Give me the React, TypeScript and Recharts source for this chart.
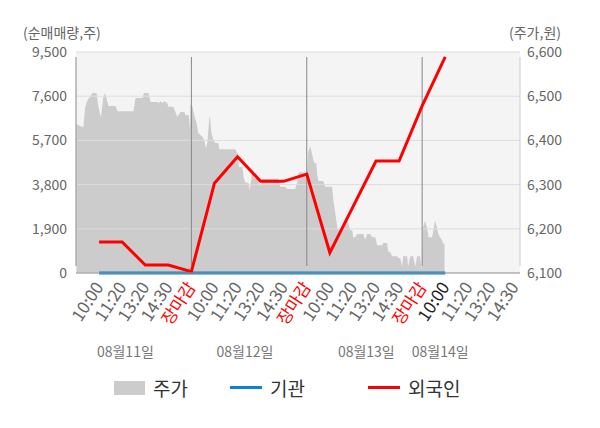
import React from "react"
import {
  ComposedChart,
  Area,
  Line,
  XAxis,
  YAxis,
  CartesianGrid,
  ReferenceLine,
  Legend,
} from "recharts"

const FONT = '"Noto Sans CJK KR", "Noto Sans", sans-serif'

// x is measured in tick slots: slot 1 = 08/11 10:00, slot 5 = 08/11 장마감, ...
const tickSlots = [1, 2, 3, 4, 5, 6, 7, 8, 9, 10, 11, 12, 13, 14, 15, 16, 17, 18, 19]
const tickLabels = [
  "10:00", "11:20", "13:20", "14:30", "장마감",
  "10:00", "11:20", "13:20", "14:30", "장마감",
  "10:00", "11:20", "13:20", "14:30", "장마감",
  "10:00", "11:20", "13:20", "14:30",
]
const dateSlots = [2.14, 7.32, 12.58, 15.78]
const dateLabels = ["08월11일", "08월12일", "08월13일", "08월14일"]
const dayBreaks = [5, 10, 15]

const leftTicks = [0, 1900, 3800, 5700, 7600, 9500]
const rightTicks = [6100, 6200, 6300, 6400, 6500, 6600]

// 순매매량 (주)
const flowSlots = [1, 2, 3, 4, 5, 6, 7, 8, 9, 10, 11, 12, 13, 14, 15, 16]
const institution = [0, 0, 0, 0, 0, 0, 0, 0, 0, 0, 0, 0, 0, 0, 0, 0]
const foreign = [1330, 1330, 344, 344, 60, 3860, 5000, 3940, 3940, 4250, 870, 2840, 4810, 4810, 7180, 9290]

// 주가 (원), intraday
const priceSlots = [
  0.02, 0.19, 0.32, 0.39, 0.45, 0.54, 0.63, 0.71, 0.89, 0.97, 1.08, 1.19, 1.26, 1.32, 1.41, 1.71,
  1.8, 2.49, 2.58, 2.88, 2.94, 3.14, 3.23, 3.53, 3.57, 3.66, 3.74, 3.83, 3.96, 4.0, 4.22, 4.39,
  4.52, 4.7, 4.74, 4.89, 4.94,
  4.96, 5.04, 5.13, 5.22, 5.3, 5.48, 5.56, 5.63, 5.69, 5.76, 5.8, 5.87, 5.95, 6.04, 6.17, 6.21,
  6.9, 6.99, 7.06, 7.21, 7.27, 7.34, 7.47, 7.53, 7.64, 7.73, 7.9, 7.99, 8.07, 8.77, 8.85, 9.07,
  9.16, 9.5, 9.59, 9.65, 9.85, 9.94,
  10.02, 10.06, 10.15, 10.24, 10.32, 10.41, 10.45, 10.5, 10.71, 10.8, 11.1, 11.15, 11.23, 11.32,
  11.36, 11.58, 11.66, 11.75, 11.82, 11.88, 11.97, 12.01, 12.1, 12.19, 12.45, 12.53, 12.62, 12.75,
  12.84, 12.97, 13.05, 13.27, 13.31, 13.48, 13.53, 13.61, 13.7, 13.92, 13.96, 14.05, 14.13, 14.18,
  14.35, 14.39, 14.48, 14.61, 14.7, 14.78, 14.91, 14.98,
  15.04, 15.13, 15.22, 15.28, 15.43, 15.5, 15.56, 15.63, 15.69, 15.78, 15.86, 15.91, 15.97,
]
const priceValues = [
  6437, 6432, 6430, 6473, 6485, 6494, 6500, 6507, 6507, 6476, 6451, 6500, 6507, 6495, 6478, 6478,
  6466, 6466, 6496, 6496, 6507, 6507, 6487, 6487, 6484, 6489, 6484, 6489, 6484, 6476, 6476, 6453,
  6464, 6464, 6457, 6457, 6424,
  6480, 6478, 6455, 6440, 6417, 6408, 6400, 6383, 6394, 6440, 6457, 6417, 6401, 6394, 6394, 6380,
  6380, 6371, 6340, 6340, 6315, 6304, 6304, 6288, 6328, 6315, 6315, 6295, 6313, 6313, 6295, 6295,
  6290, 6290, 6306, 6328, 6328, 6322,
  6326, 6374, 6387, 6367, 6349, 6349, 6326, 6308, 6308, 6295, 6295, 6265, 6238, 6204,
  6197, 6197, 6210, 6220, 6209, 6197, 6197, 6181, 6181, 6188, 6188, 6175, 6188, 6188,
  6181, 6181, 6163, 6163, 6168, 6168, 6148, 6148, 6138, 6138, 6134, 6134, 6114, 6138,
  6138, 6114, 6138, 6138, 6114, 6138, 6138, 6107,
  6204, 6218, 6200, 6181, 6181, 6200, 6218, 6205, 6190, 6180, 6175, 6165, 6168,
]

const X_MAX = 19.24
const TIME_AXIS = "axisA"
const DATE_AXIS = "axisB"

const priceData = priceSlots.map((x, i) => ({ x, price: priceValues[i] }))
const flowData = flowSlots.map((x, i) => ({ x, inst: institution[i], foreign: foreign[i] }))

function TimeTick(props: any) {
  const { x, y, payload } = props
  const idx = tickSlots.indexOf(payload.value)
  const label = tickLabels[idx]
  let fill = "#666"
  if (label === "장마감") fill = "#ff0000"
  else if (payload.value === 16) fill = "#222"
  const tx = x + 5
  const ty = y + 6
  return (
    <text
      x={tx}
      y={ty}
      transform={`rotate(-57 ${tx} ${ty})`}
      textAnchor="end"
      fontSize={17}
      fontFamily={FONT}
      fill={fill}
    >
      {label}
    </text>
  )
}

function DateTick(props: any) {
  const { x, y, payload } = props
  const idx = dateSlots.indexOf(payload.value)
  return (
    <text x={x} y={y + 16} textAnchor="middle" fontSize={14} fontFamily={FONT} fill="#777">
      {dateLabels[idx]}
    </text>
  )
}

// frame lines reach a little above and below the plot, as in the original
function frameLine(color: string) {
  return (p: any) => (
    <line x1={p.x1} x2={p.x2} y1={p.y1 - 7} y2={p.y2 + 5} stroke={color} strokeWidth={1} />
  )
}

function ChartLegend() {
  const item = (left: number, swatch: React.ReactNode, text: string) => (
    <div style={{ position: "absolute", left, top: 6, display: "flex", alignItems: "center" }}>
      {swatch}
      <span style={{ marginLeft: 8, fontSize: 19, color: "#333", fontFamily: FONT }}>{text}</span>
    </div>
  )
  return (
    <div style={{ position: "relative", width: 600, height: 60 }}>
      {item(114, <div style={{ width: 31, height: 14, background: "#cccccc" }} />, "주가")}
      {item(230, <div style={{ width: 32, height: 3, background: "#0a84cc" }} />, "기관")}
      {item(368, <div style={{ width: 32, height: 3, background: "#ff0000" }} />, "외국인")}
    </div>
  )
}

export default function App() {
  return (
    <div style={{ position: "absolute", left: 0, top: 0, fontFamily: FONT }}>
      <ComposedChart width={600} height={428} margin={{ top: 52, right: 0, bottom: 0, left: 0 }}>
        <CartesianGrid
          xAxisId={TIME_AXIS}
          yAxisId="left"
          horizontal={false}
          vertical={false}
          fill="#f4f4f4"
        />
        <XAxis
          xAxisId={TIME_AXIS}
          type="number"
          dataKey="x"
          domain={[0, X_MAX]}
          ticks={tickSlots}
          interval={0}
          height={60}
          tick={<TimeTick />}
          tickLine={false}
          axisLine={{ stroke: "#999" }}
          allowDataOverflow
        />
        <XAxis
          xAxisId={DATE_AXIS}
          type="number"
          dataKey="x"
          domain={[0, X_MAX]}
          ticks={dateSlots}
          interval={0}
          height={35}
          tick={<DateTick />}
          tickLine={false}
          axisLine={false}
          allowDataOverflow
        />
        <YAxis
          yAxisId="left"
          orientation="left"
          width={76}
          domain={[0, 9500]}
          ticks={leftTicks}
          interval={0}
          tickFormatter={(v: number) => v.toLocaleString("en-US")}
          tick={{ fontSize: 14, fill: "#666", fontFamily: FONT }}
          tickMargin={3}
          tickLine={false}
          axisLine={false}
          label={{
            content: (p: any) => (
              <text x={p.viewBox.x + 23} y={p.viewBox.y - 14} fontSize={14} fill="#666" fontFamily={FONT}>
                (순매매량,주)
              </text>
            ),
          }}
        />
        <YAxis
          yAxisId="right"
          orientation="right"
          width={80}
          domain={[6100, 6600]}
          ticks={rightTicks}
          interval={0}
          tickFormatter={(v: number) => v.toLocaleString("en-US")}
          tick={{ fontSize: 14, fill: "#666", fontFamily: FONT }}
          tickMargin={1}
          tickLine={false}
          axisLine={false}
          label={{
            content: (p: any) => (
              <text x={p.viewBox.x - 11} y={p.viewBox.y - 14} fontSize={14} fill="#666" fontFamily={FONT}>
                (주가,원)
              </text>
            ),
          }}
        />
        <Area
          xAxisId={TIME_AXIS}
          yAxisId="right"
          data={priceData}
          dataKey="price"
          name="주가"
          type="linear"
          stroke="none"
          fill="#cccccc"
          fillOpacity={1}
          isAnimationActive={false}
        />
        {leftTicks.map((t) => (
          <ReferenceLine key={t} xAxisId={TIME_AXIS} yAxisId="left" y={t} stroke="#dddddd" strokeWidth={1} />
        ))}
        <ReferenceLine xAxisId={TIME_AXIS} yAxisId="left" x={0} shape={frameLine("#888")} />
        <ReferenceLine xAxisId={TIME_AXIS} yAxisId="left" x={X_MAX} shape={frameLine("#cccccc")} />
        {dayBreaks.map((d) => (
          <ReferenceLine key={d} xAxisId={TIME_AXIS} yAxisId="left" x={d} shape={frameLine("#888")} />
        ))}
        <Line
          xAxisId={TIME_AXIS}
          yAxisId="left"
          data={flowData}
          dataKey="inst"
          name="기관"
          type="linear"
          stroke="#0a84cc"
          strokeWidth={3}
          dot={false}
          isAnimationActive={false}
        />
        <Line
          xAxisId={TIME_AXIS}
          yAxisId="left"
          data={flowData}
          dataKey="foreign"
          name="외국인"
          type="linear"
          stroke="#ff0000"
          strokeWidth={3}
          dot={false}
          isAnimationActive={false}
        />
        <Legend verticalAlign="bottom" height={60} content={() => <ChartLegend />} />
      </ComposedChart>
    </div>
  )
}
